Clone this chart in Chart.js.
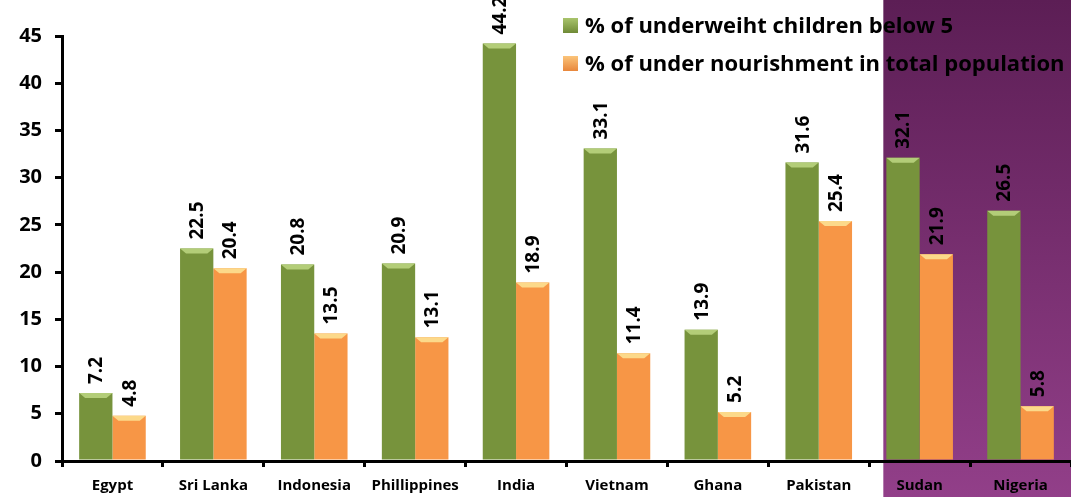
<!DOCTYPE html>
<html lang="en">
<head>
    <meta charset="UTF-8">
    <title>Underweight and under nourishment</title>
    <script src="https://cdn.jsdelivr.net/npm/chart.js"></script>
    <style>
        body { margin: 0; background: #fff; }
        #wrap { position: relative; width: 1071px; height: 497px; }
        .legend { position: absolute; left: 563px; top: 9px; font: bold 22px "Open Sans", sans-serif; color: #000; }
        .legend div { height: 38px; line-height: 30px; white-space: nowrap; }
        .legend span { display: inline-block; width: 15px; height: 15px; margin-right: 7px; vertical-align: 0px; }
    </style>
</head>
<body>
    <div id="wrap">
        <canvas id="nutritionChart"></canvas>
        <div class="legend">
            <div><span style="background: linear-gradient(#a9c46c, #6f8a36);"></span>% of underweiht children below 5</div>
            <div><span style="background: linear-gradient(#fbc47a, #e8873c);"></span>% of under nourishment in total population</div>
        </div>
    </div>

    <script>
        // values
        const countries = ['Egypt', 'Sri Lanka', 'Indonesia', 'Phillippines', 'India', 'Vietnam', 'Ghana', 'Pakistan', 'Sudan', 'Nigeria'];
        const underweight = [7.2, 22.5, 20.8, 20.9, 44.2, 33.1, 13.9, 31.6, 32.1, 26.5];
        const undernourished = [4.8, 20.4, 13.5, 13.1, 18.9, 11.4, 5.2, 25.4, 21.9, 5.8];
        const yTicks = [0, 5, 10, 15, 20, 25, 30, 35, 40, 45];
        const highlighted = ['Sudan', 'Nigeria'];

        const tickFont = { family: 'Open Sans', weight: 'bold', size: 20 };

        // purple panel behind the last countries
        const highlightPanel = {
            id: 'highlightPanel',
            beforeDraw(chart) {
                const x = chart.scales.x;
                const first = countries.indexOf(highlighted[0]);
                const step = x.getPixelForValue(1) - x.getPixelForValue(0);
                const left = x.getPixelForValue(first) - step * 0.36;
                const ctx = chart.ctx;
                const g = ctx.createLinearGradient(0, 0, 0, chart.height);
                g.addColorStop(0, '#5c1e55');
                g.addColorStop(1, '#923f89');
                ctx.save();
                ctx.fillStyle = g;
                ctx.fillRect(left, 0, chart.width - left, chart.height);
                ctx.restore();
            }
        };

        // lighter bevel on top of every bar + rotated value labels
        const barDecor = {
            id: 'barDecor',
            afterDatasetsDraw(chart) {
                const ctx = chart.ctx;
                const tops = ['#b3cd78', '#fcd98a'];
                chart.data.datasets.forEach((ds, i) => {
                    chart.getDatasetMeta(i).data.forEach((bar, j) => {
                        const half = bar.width / 2;
                        const l = bar.x - half, r = bar.x + half;
                        ctx.save();
                        ctx.fillStyle = tops[i];
                        ctx.beginPath();
                        ctx.moveTo(l, bar.y);
                        ctx.lineTo(r, bar.y);
                        ctx.lineTo(r - 6, bar.y + 5);
                        ctx.lineTo(l + 6, bar.y + 5);
                        ctx.closePath();
                        ctx.fill();

                        ctx.translate(bar.x, bar.y - 9);
                        ctx.rotate(-Math.PI / 2);
                        ctx.fillStyle = '#000';
                        ctx.font = 'bold 19px "Open Sans"';
                        ctx.textAlign = 'left';
                        ctx.textBaseline = 'middle';
                        ctx.fillText(ds.data[j].toFixed(1), 0, 1);
                        ctx.restore();
                    });
                });
            }
        };

        function sideShade(ctx, base, edge) {
            const bar = ctx.element;
            const c = ctx.chart.ctx;
            if (!bar || !bar.width) return base;
            const g = c.createLinearGradient(bar.x - bar.width / 2, 0, bar.x + bar.width / 2, 0);
            g.addColorStop(0, edge);
            g.addColorStop(0.15, base);
            g.addColorStop(0.85, base);
            g.addColorStop(1, edge);
            return g;
        }

        new Chart(document.getElementById('nutritionChart'), {
            type: 'bar',
            data: {
                labels: countries,
                datasets: [{
                    label: '% of underweiht children below 5',
                    data: underweight,
                    backgroundColor: ctx => sideShade(ctx, '#77933c', '#62802e')
                }, {
                    label: '% of under nourishment in total population',
                    data: undernourished,
                    backgroundColor: ctx => sideShade(ctx, '#f79646', '#e58335')
                }]
            },
            options: {
                responsive: true,
                maintainAspectRatio: false,
                animation: false,
                layout: { padding: { top: 36, right: 0, left: 0, bottom: 0 } },
                datasets: { bar: { categoryPercentage: 0.66, barPercentage: 1 } },
                plugins: {
                    legend: { display: false },
                    tooltip: { enabled: false }
                },
                scales: {
                    x: {
                        grid: { offset: true, drawOnChartArea: false, color: '#000', lineWidth: 3, tickLength: 6 },
                        border: { color: '#000', width: 3 },
                        ticks: { color: '#000', font: { family: 'Open Sans', weight: 'bold', size: 15 }, padding: 10, maxRotation: 0, autoSkip: false },
                        afterFit: s => { s.height = 36; }
                    },
                    y: {
                        min: 0,
                        max: 45,
                        afterBuildTicks: s => { s.ticks = yTicks.map(v => ({ value: v })); },
                        grid: { drawOnChartArea: false, color: '#000', lineWidth: 3, tickLength: 7 },
                        border: { color: '#000', width: 3 },
                        ticks: { color: '#000', font: tickFont, padding: 13 },
                        afterFit: s => { s.width = 62; }
                    }
                }
            },
            plugins: [highlightPanel, barDecor]
        });
    </script>
</body>
</html>
